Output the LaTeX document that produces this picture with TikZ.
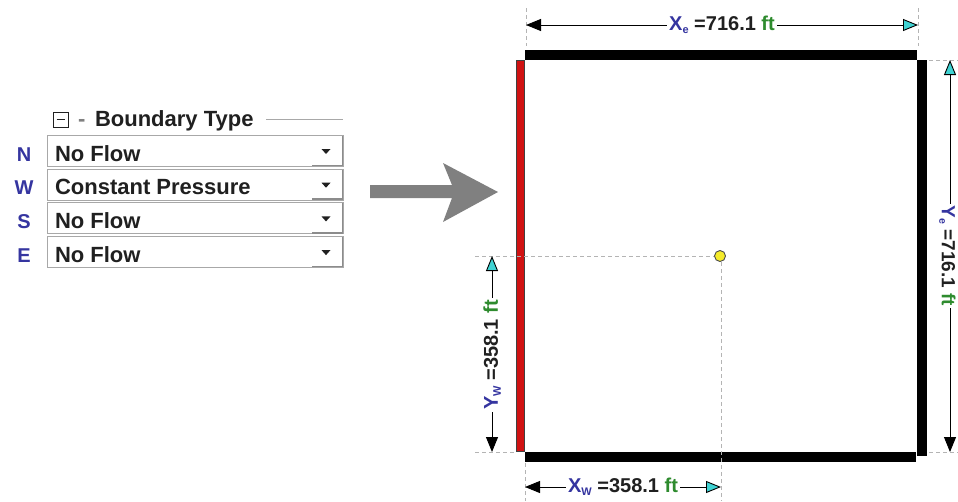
\documentclass[tikz,border=0pt]{standalone}
\usepackage{fontspec}
\setmainfont{Liberation Sans}
\usetikzlibrary{arrows.meta}
\definecolor{lblue}{HTML}{3535A0}
\definecolor{lgreen}{HTML}{2E8B2E}
\definecolor{bred}{HTML}{D01212}
\definecolor{tcyan}{HTML}{3FD3D3}
\definecolor{agray}{HTML}{808080}
\definecolor{txt}{HTML}{202020}
\definecolor{rowgray}{HTML}{A8A8A8}
\definecolor{shadegray}{HTML}{8C8C8C}
\definecolor{extgray}{HTML}{B4B4B4}
\definecolor{dotyellow}{HTML}{F5EB2A}
\begin{document}
\begin{tikzpicture}[x=1pt,y=-1pt,
  every node/.style={inner sep=0pt, outer sep=0pt},
  paneltext/.style={font=\fontsize{22}{24}\selectfont\bfseries, text=txt, anchor=base west},
  sidelabel/.style={font=\fontsize{20}{22}\selectfont\bfseries, text=lblue, anchor=base},
  rowbox/.style={draw=rowgray, line width=1pt},
  dimline/.style={line width=0.9pt, {Triangle[length=15pt,width=12pt]}-{Triangle[length=15pt,width=12pt,fill=tcyan]}},
  extline/.style={draw=extgray, line width=0.7pt, dash pattern=on 4pt off 3pt},
  dimlabel/.style={fill=white, inner xsep=2pt, inner ysep=1pt, font=\fontsize{20}{22}\selectfont\bfseries, text=txt},
]
\useasboundingbox (0,0) rectangle (958,501);
\fill[white] (0,0) rectangle (958,501);

% ---------- panel ----------
\draw[txt, line width=1pt] (53,112) rectangle (68,127);
\draw[txt, line width=1.2pt] (56.5,119.5) -- (64.5,119.5);
\node[paneltext, text=agray] (dash) at (78,126) {-};
\node[paneltext, text=txt] (hdr) at (95,126) {Boundary Type};
\draw[rowgray, line width=1pt] (266,119) -- (343,119);

\foreach \i/\lab/\val in {0/N/No Flow,1/W/Constant Pressure,2/S/No Flow,3/E/No Flow}{
  \pgfmathsetmacro{\top}{135.5+33.7*\i}
  \draw[rowbox] (47,\top) rectangle (343,\top+31);
  \draw[shadegray, line width=1.6pt] (312,\top+30) -- (342.5,\top+30) -- (342.5,\top+0.5);
  \node[sidelabel] (side\i) at (24,\top+25.5) {\lab};
  \node[paneltext] (val\i) at (55,\top+25.5) {\val};
  \fill[txt] (321.5,\top+13.5) -- (330.5,\top+13.5) -- (326,\top+18.5) -- cycle;
}

% ---------- big gray arrow ----------
\fill[agray] (370,185) -- (452,185) -- (443,163) -- (498,192) -- (443,222) -- (452,198) -- (370,198) -- cycle;

% ---------- boundary bars ----------
\fill[black] (525,50) rectangle (917,59.5);
\fill[black] (917,60) rectangle (927,456);
\fill[black] (525,452) rectangle (916,462);
\filldraw[fill=bred, draw=black!75, line width=0.8pt] (516,60) rectangle (524.5,451.5);

% ---------- extension lines ----------
\draw[extline] (526,8) -- (526,46);
\draw[extline] (918,8) -- (918,46);
\draw[extline] (929,60) -- (958,60);
\draw[extline] (929,452) -- (958,452);
\draw[extline] (475,256) -- (714,256);
\draw[extline] (475,452) -- (515,452);
\draw[extline] (525,463) -- (525,501);
\draw[extline] (721,262) -- (721,501);

% ---------- well point ----------
\node[circle, fill=dotyellow, draw=black!70, line width=0.9pt, minimum size=11pt] (well) at (720,256) {};

% ---------- dimensions ----------
\coordinate (xeL) at (526,25);
\coordinate (xeR) at (918,25);
\draw[dimline] (xeL) -- (xeR);
\node[dimlabel] (xelab) at (722,25) {{\color{lblue}X\raisebox{-3pt}{\fontsize{11}{12}\selectfont e}} =716.1 {\color{lgreen}ft}};

\coordinate (yeB) at (950,452);
\coordinate (yeT) at (950,60);
\draw[dimline] (yeB) -- (yeT);
\node[dimlabel, rotate=-90, inner ysep=0pt, font=\fontsize{19}{21}\selectfont\bfseries] (yelab) at (947.5,256) {{\color{lblue}Y\raisebox{-2.5pt}{\fontsize{10.5}{12}\selectfont e}} =716.1 {\color{lgreen}ft}};

\coordinate (ywB) at (492,452);
\coordinate (ywT) at (492,256);
\draw[dimline] (ywB) -- (ywT);
\node[dimlabel, rotate=90] (ywlab) at (492,355) {{\color{lblue}Y\raisebox{-3pt}{\fontsize{11}{12}\selectfont W}} =358.1 {\color{lgreen}ft}};

\coordinate (xwL) at (525,487);
\coordinate (xwR) at (721,487);
\draw[dimline] (xwL) -- (xwR);
\node[dimlabel] (xwlab) at (623,487) {{\color{lblue}X\raisebox{-3pt}{\fontsize{11}{12}\selectfont W}} =358.1 {\color{lgreen}ft}};
\end{tikzpicture}
\end{document}
